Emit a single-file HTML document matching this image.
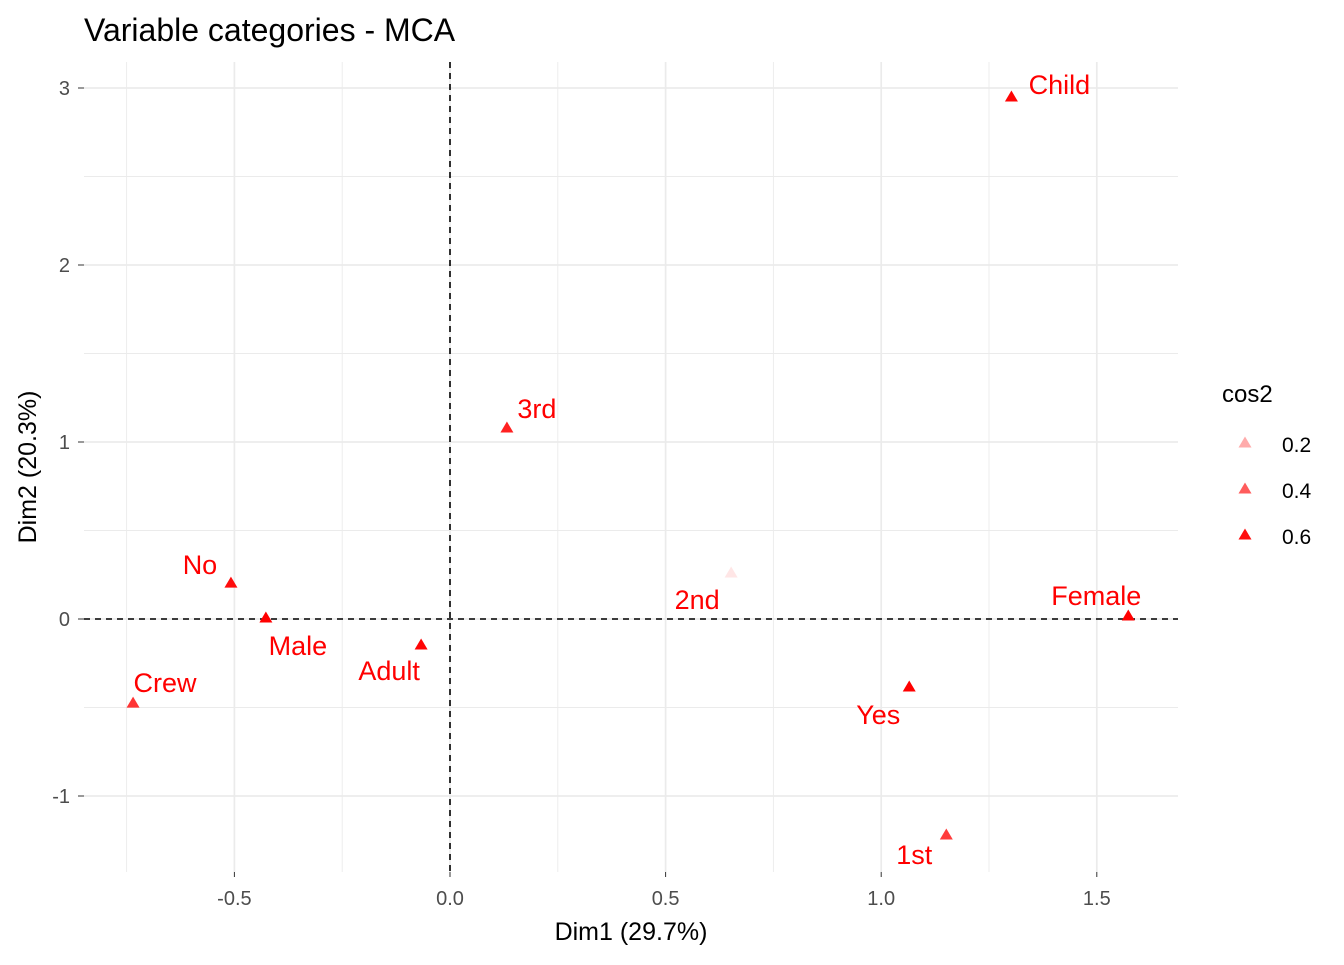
<!DOCTYPE html>
<html><head><meta charset="utf-8"><style>
html,body{margin:0;padding:0;background:#fff;}
svg text{font-family:"Liberation Sans",Arial,sans-serif;}
</style></head><body>
<svg id="chart" width="1344" height="960" xmlns="http://www.w3.org/2000/svg">
<rect width="1344" height="960" fill="#fff"/>
<text x="84" y="41" font-size="32" fill="#000">Variable categories - MCA</text>
<g id="grid"></g>
<g id="axes"></g>
<g id="points"></g>
<text x="631" y="940" font-size="25" text-anchor="middle">Dim1 (29.7%)</text>
<text transform="translate(36,467) rotate(-90)" font-size="25" text-anchor="middle">Dim2 (20.3%)</text>
<g id="legend">
<text x="1222" y="402" font-size="24">cos2</text>
</g>
</svg>
<script>
const categories = ["Child","3rd","No","Male","Adult","Crew","2nd","Female","Yes","1st"];
const dim1 = [1.302,0.132,-0.508,-0.427,-0.067,-0.735,0.652,1.573,1.065,1.151];
const dim2 = [2.949,1.079,0.203,0.006,-0.147,-0.475,0.260,0.017,-0.384,-1.220];
const cos2 = [0.62,0.55,0.60,0.68,0.62,0.50,0.05,0.70,0.66,0.48];
const xTicks = [-0.5,0,0.5,1,1.5];
const xTickLabels = ["-0.5","0.0","0.5","1.0","1.5"];
const yTicks = [-1,0,1,2,3];
const yTickLabels = ["-1","0","1","2","3"];
const legendValues = [0.2,0.4,0.6];
const labelOffsets = [[48,-12],[30,-19],[-31,-18],[32,28],[-32,26],[32,-20],[-34,27],[-32,-20],[-31,28],[-32,20]];

const NS="http://www.w3.org/2000/svg";
const L=84,R=1178,T=62,B=872;
const sx=v=>450+v*431.2;
const sy=v=>619-v*177;
const alpha=c=>Math.max(0.08,Math.min(1,c*1.55+0.02));
function mk(tag,attrs,parent){const e=document.createElementNS(NS,tag);for(const k in attrs)e.setAttribute(k,attrs[k]);parent.appendChild(e);return e;}
const grid=document.getElementById('grid'),axes=document.getElementById('axes'),pts=document.getElementById('points'),leg=document.getElementById('legend');
for(let i=-3;i<=6;i++){
  const v=i*0.25;
  const l=mk('line',{x1:sx(v),x2:sx(v),y1:T,y2:B,stroke:'#ebebeb','stroke-width':i%2===0?1.7:0.9},grid);
  
  
}
for(let i=-2;i<=6;i++){
  const v=i*0.5;
  const l=mk('line',{x1:L,x2:R,y1:sy(v),y2:sy(v),stroke:'#ebebeb','stroke-width':i%2===0?1.7:0.9},grid);
  
  
}
xTicks.forEach((v,i)=>{
  const t=mk('text',{x:sx(v),y:905,'font-size':20,fill:'#4d4d4d','text-anchor':'middle'},axes);t.textContent=xTickLabels[i];
  
  
  const k=mk('line',{x1:sx(v),x2:sx(v),y1:B,y2:B+5,stroke:'#333','stroke-width':1},axes);
  
  
});
yTicks.forEach((v,i)=>{
  const t=mk('text',{x:70,y:sy(v)+7,'font-size':20,fill:'#4d4d4d','text-anchor':'end'},axes);t.textContent=yTickLabels[i];
  
  
  const k=mk('line',{x1:L-6,x2:L,y1:sy(v),y2:sy(v),stroke:'#333','stroke-width':1},axes);
  
  
});
const h=mk('line',{x1:L,x2:R,y1:sy(0),y2:sy(0),stroke:'#000','stroke-width':1.6,'stroke-dasharray':'6,5'},axes);


const vv=mk('line',{x1:sx(0),x2:sx(0),y1:T,y2:B,stroke:'#000','stroke-width':1.6,'stroke-dasharray':'6,5'},axes);


function tri(x,y,op,parent){return mk('polygon',{points:`${x-6.5},${y+4.5} ${x+6.5},${y+4.5} ${x},${y-6.5}`,fill:'#ff0000','fill-opacity':op},parent);}
categories.forEach((c,i)=>{
  const x=sx(dim1[i]),y=sy(dim2[i]);
  const p=tri(x,y,alpha(cos2[i]),pts);
  
  
  const t=mk('text',{x:x+labelOffsets[i][0],y:y+labelOffsets[i][1]+9,'font-size':27,fill:'#ff0000','text-anchor':'middle'},pts);t.textContent=c;
  
  
});
legendValues.forEach((v,i)=>{
  const y=443+i*46;
  const p=tri(1245,y,alpha(v),leg);
  
  
  const t=mk('text',{x:1282,y:y+9,'font-size':21,fill:'#000'},leg);t.textContent=v.toFixed(1);
  
  
});
</script>
</body></html>
